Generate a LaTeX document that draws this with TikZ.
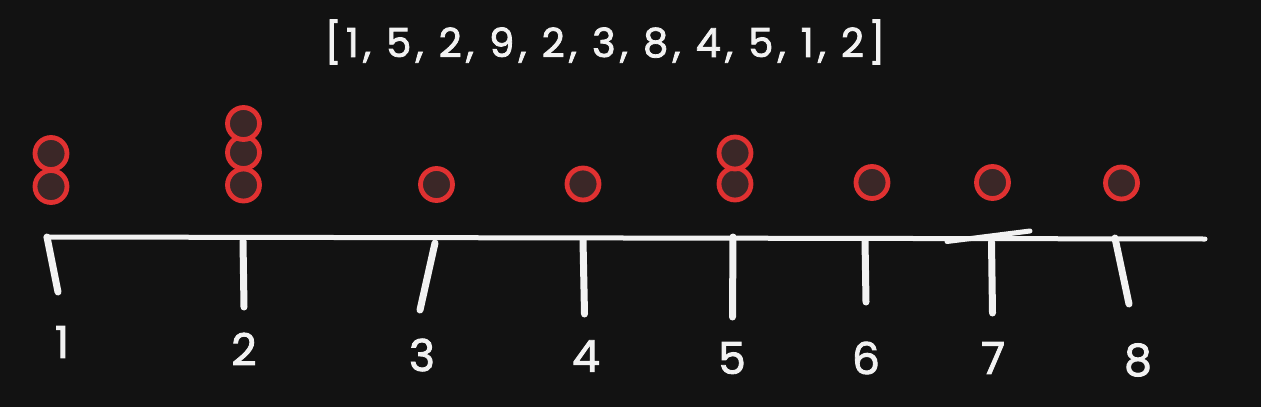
\documentclass[tikz,border=0pt]{standalone}
\usepackage{fontspec}
\setmainfont{Poppins}
\newfontfamily\handfont[FakeBold=2]{Poppins}
\newfontfamily\titlefont[FakeBold=2,LetterSpace=11]{Poppins}
\definecolor{bg}{HTML}{121212}
\definecolor{dotred}{HTML}{E03131}
\definecolor{dotfill}{HTML}{3B2727}
\definecolor{chalk}{HTML}{F2F2F2}
\begin{document}
\begin{tikzpicture}[x=1pt,y=-1pt,
  dot/.style={circle,draw=dotred,fill=dotfill,line width=4.8pt,minimum size=32pt,inner sep=0pt},
  axisline/.style={draw=chalk,line width=5pt,line cap=round,line join=round},
  tickline/.style={draw=chalk,line width=7pt,line cap=round},
  lab/.style={text=chalk,font=\handfont\fontsize{44}{50}\selectfont,inner sep=0pt,anchor=center},
  ttl/.style={text=chalk,font=\titlefont\fontsize{40}{48}\selectfont,inner sep=0pt,anchor=center}]
\fill[bg] (0,0) rectangle (1261,407);
\useasboundingbox (0,0) rectangle (1261,407);
% title
\node[ttl] (title) at (605,42) {[1, 5, 2, 9, 2, 3, 8, 4, 5, 1, 2]};
% axis
\coordinate (a0) at (46,237);
\coordinate (a1) at (1205,239);
\coordinate (s0) at (947,241.5);
\coordinate (s1) at (1030,231);
\draw[axisline] (a0) -- (a1);
\draw[axisline] (s0) -- (s1);
% ticks
\coordinate (t1a) at (47,237); \coordinate (t1b) at (58,292);
\coordinate (t2a) at (243,241); \coordinate (t2b) at (244,307);
\coordinate (t3a) at (435,243); \coordinate (t3b) at (420,310);
\coordinate (t4a) at (583,240); \coordinate (t4b) at (584.5,314);
\coordinate (t5a) at (733,237); \coordinate (t5b) at (732.5,317);
\coordinate (t6a) at (865,240); \coordinate (t6b) at (866,302);
\coordinate (t7a) at (991.5,242); \coordinate (t7b) at (992.5,313);
\coordinate (t8a) at (1115,238); \coordinate (t8b) at (1129,304);
\foreach \i in {1,...,8} {\draw[tickline] (t\i a) -- (t\i b);}
% labels
\node[lab] (l1) at (62,342) {1};
\node[lab] (l2) at (244,349) {2};
\node[lab] (l3) at (422,355) {3};
\node[lab] (l4) at (586,356) {4};
\node[lab] (l5) at (732,358) {5};
\node[lab] (l6) at (866,358) {6};
\node[lab] (l7) at (993,358) {7};
\node[lab] (l8) at (1138,360) {8};
% dots
\node[dot] (d1a) at (51,186.5) {};
\node[dot] (d1b) at (51,153.5) {};
\node[dot] (d2a) at (243.5,185) {};
\node[dot] (d2b) at (243.5,152.5) {};
\node[dot] (d2c) at (243.5,123.5) {};
\node[dot] (d3a) at (436.5,184.5) {};
\node[dot] (d4a) at (583,184) {};
\node[dot] (d5a) at (735,184) {};
\node[dot] (d5b) at (735,153) {};
\node[dot] (d6a) at (872,182.5) {};
\node[dot] (d7a) at (992.5,182.5) {};
\node[dot] (d8a) at (1121.5,183) {};
\end{tikzpicture}
\end{document}
